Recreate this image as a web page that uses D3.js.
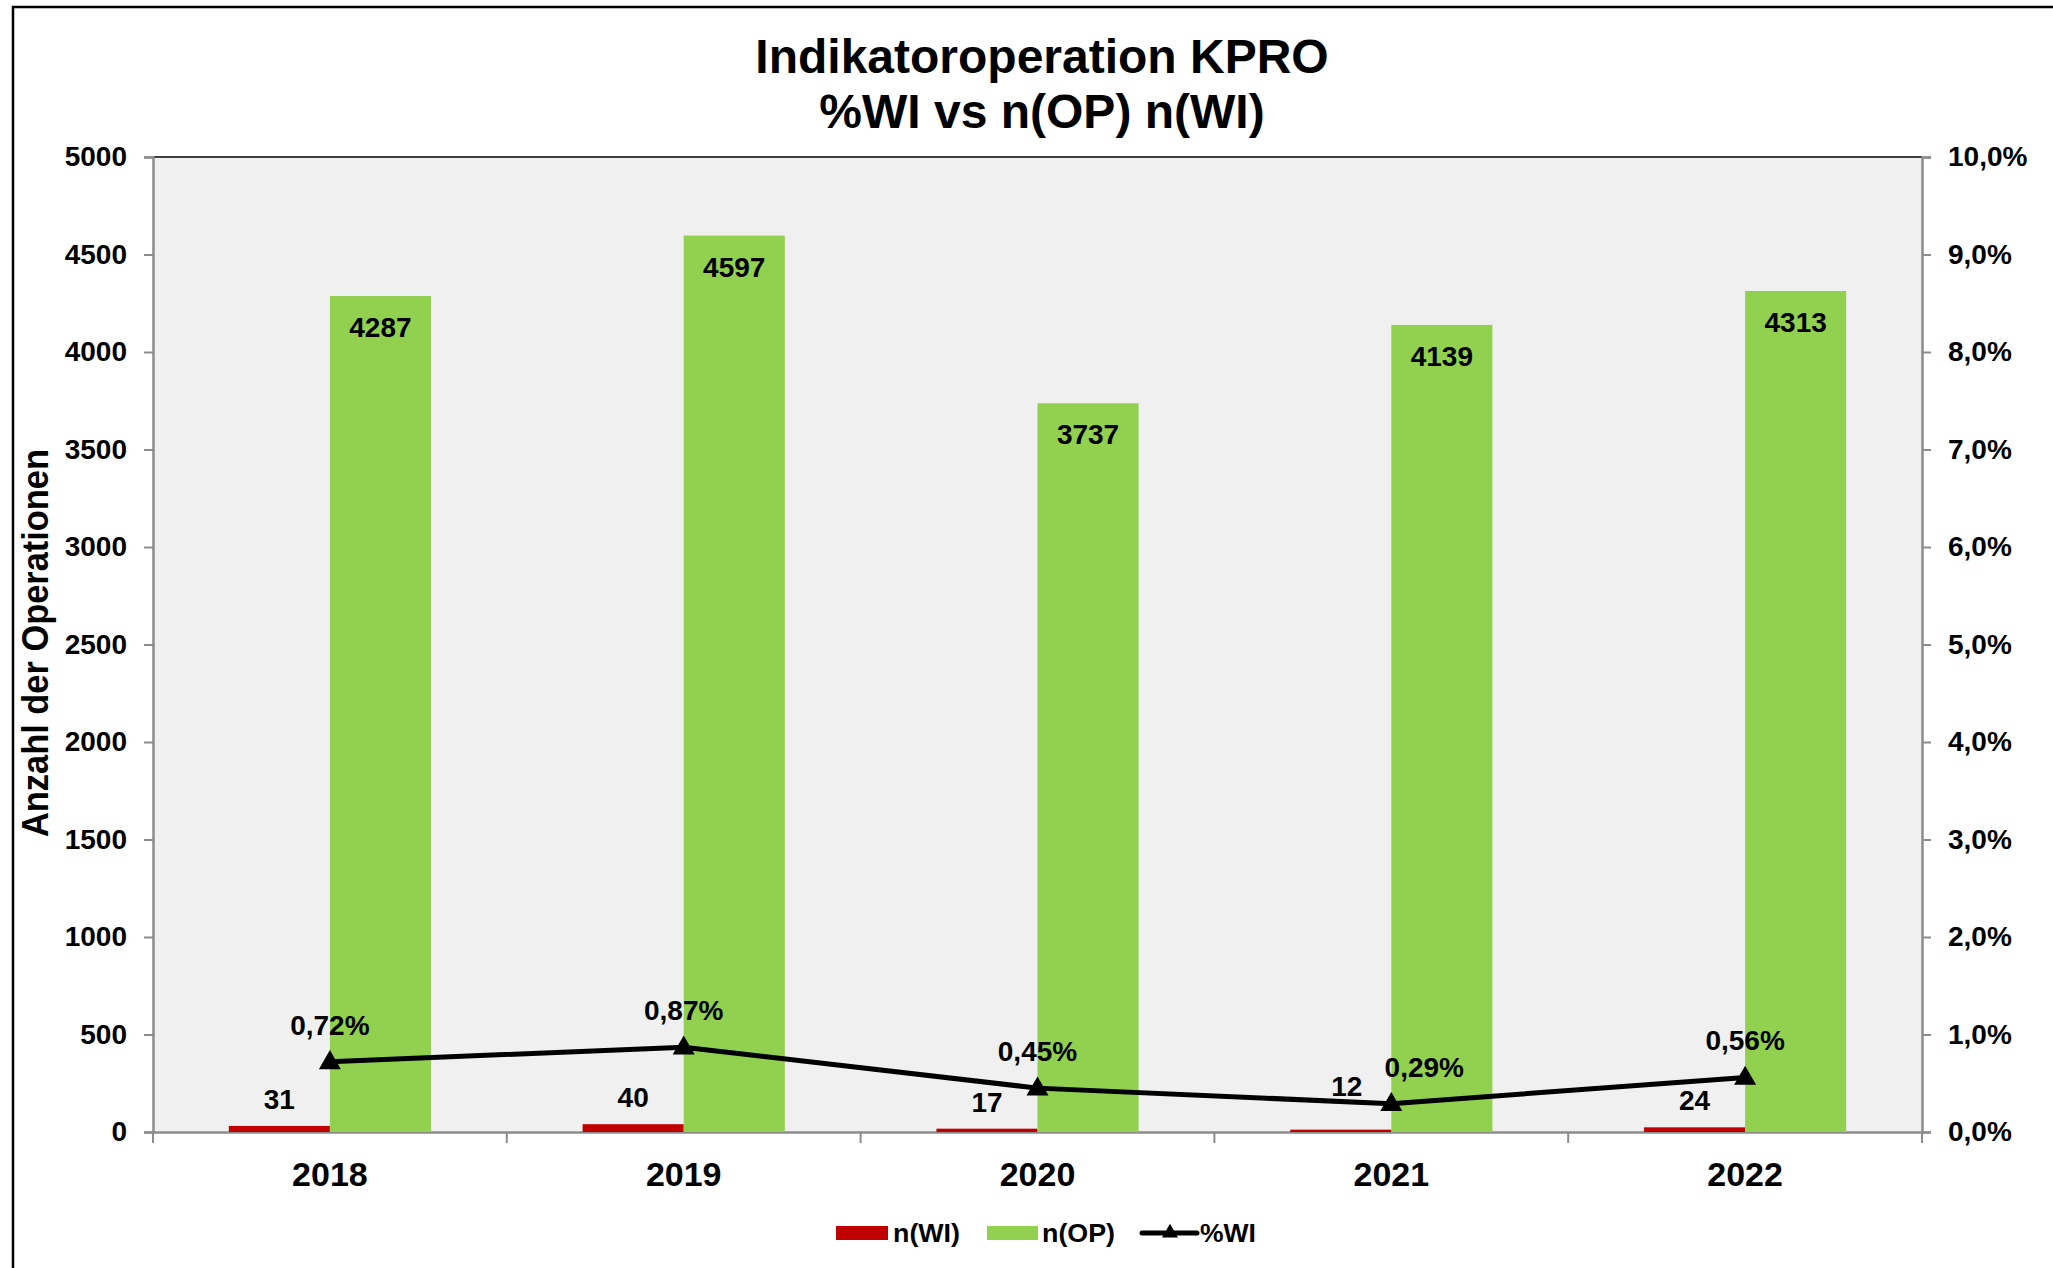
<!DOCTYPE html>
<html>
<head>
<meta charset="utf-8">
<script src="https://cdn.jsdelivr.net/npm/d3@7"></script>
<style>
  html, body { margin: 0; padding: 0; background: #fff; }
  svg { display: block; font-family: "Liberation Sans", Arial, sans-serif; font-weight: bold; }
</style>
</head>
<body>
<div id="chart"></div>
<script>
// chart values
const years = ['2018', '2019', '2020', '2021', '2022']
const nWI = [31, 40, 17, 12, 24]
const nOP = [4287, 4597, 3737, 4139, 4313]
const pctWI = [0.72, 0.87, 0.45, 0.29, 0.56]
const leftTicks = [0, 500, 1000, 1500, 2000, 2500, 3000, 3500, 4000, 4500, 5000]
const rightTicks = [0, 1, 2, 3, 4, 5, 6, 7, 8, 9, 10]

const width = 2053
const height = 1268
const plot = { left: 153, right: 1922, top: 157, bottom: 1132 }

const svg = d3.select('#chart').append('svg')
  .attr('width', width)
  .attr('height', height)

// outer frame (only left and top edges are inside the picture)
svg.append('path')
  .attr('d', `M13,${height} L13,7 L${width},7`)
  .attr('fill', 'none')
  .attr('stroke', '#000')
  .attr('stroke-width', 2.5)

// title
const title = svg.append('text')
  .attr('text-anchor', 'middle')
  .attr('font-size', 48)
title.append('tspan').attr('x', 1042).attr('y', 73).text('Indikatoroperation KPRO')
title.append('tspan').attr('x', 1042).attr('y', 128).text('%WI vs n(OP) n(WI)')

const x = d3.scaleBand().domain(years).range([plot.left, plot.right])
const y = d3.scaleLinear().domain([0, 5000]).range([plot.bottom, plot.top])
const y2 = d3.scaleLinear().domain([0, 10]).range([plot.bottom, plot.top])
const bw = x.bandwidth() / 3.5
const cx = d => x(d) + x.bandwidth() / 2

// plot area
svg.append('rect')
  .attr('x', plot.left).attr('y', plot.top)
  .attr('width', plot.right - plot.left)
  .attr('height', plot.bottom - plot.top)
  .attr('fill', '#f0f0f0')
svg.append('line')
  .attr('x1', plot.left).attr('x2', plot.right)
  .attr('y1', plot.top).attr('y2', plot.top)
  .attr('stroke', '#000').attr('stroke-width', 1.5)

// axes
const fmtPct = d => d3.format('.1f')(d).replace('.', ',') + '%'

const gLeft = svg.append('g')
  .attr('transform', `translate(${plot.left},0)`)
  .call(d3.axisLeft(y).tickValues(leftTicks).tickSize(9).tickPadding(17).tickFormat(d3.format('d')))
const gRight = svg.append('g')
  .attr('transform', `translate(${plot.right},0)`)
  .call(d3.axisRight(y2).tickValues(rightTicks).tickSize(9).tickPadding(17).tickFormat(fmtPct))

;[gLeft, gRight].forEach(g => {
  g.select('.domain').attr('stroke', '#8c8c8c').attr('stroke-width', 2.5)
  g.selectAll('.tick line').attr('stroke', '#8c8c8c').attr('stroke-width', 2)
  g.selectAll('.tick text')
    .attr('font-size', 28)
    .attr('font-family', '"Liberation Sans", Arial, sans-serif')
    .attr('font-weight', 'bold')
    .attr('fill', '#000')
})

const gBottom = svg.append('g')
  .attr('transform', `translate(0,${plot.bottom})`)
  .call(d3.axisBottom(x).tickSize(0))
gBottom.select('.domain').attr('stroke', '#8c8c8c').attr('stroke-width', 2.5)
gBottom.selectAll('.tick text')
  .attr('y', 54).attr('dy', 0)
  .attr('font-size', 34)
  .attr('font-family', '"Liberation Sans", Arial, sans-serif')
  .attr('font-weight', 'bold')
  .attr('fill', '#000')

// category boundary ticks
const bounds = years.map(d => x(d)).concat([plot.right])
gBottom.selectAll('line.bound').data(bounds).enter()
  .append('line')
  .attr('class', 'bound')
  .attr('x1', d => d).attr('x2', d => d)
  .attr('y1', 0).attr('y2', 11)
  .attr('stroke', '#8c8c8c').attr('stroke-width', 2)

// y axis title
svg.append('text')
  .attr('transform', 'translate(48,643) rotate(-90)')
  .attr('text-anchor', 'middle')
  .attr('font-size', 36)
  .attr('textLength', 388)
  .attr('lengthAdjust', 'spacingAndGlyphs')
  .text('Anzahl der Operationen')

// bars
svg.selectAll('rect.wi').data(years).enter()
  .append('rect').attr('class', 'wi')
  .attr('x', d => cx(d) - bw)
  .attr('y', (d, i) => y(nWI[i]))
  .attr('width', bw)
  .attr('height', (d, i) => y(0) - y(nWI[i]))
  .attr('fill', '#c00000')

svg.selectAll('rect.op').data(years).enter()
  .append('rect').attr('class', 'op')
  .attr('x', d => cx(d))
  .attr('y', (d, i) => y(nOP[i]))
  .attr('width', bw)
  .attr('height', (d, i) => y(0) - y(nOP[i]))
  .attr('fill', '#92d050')

// bar labels
svg.selectAll('text.lop').data(years).enter()
  .append('text').attr('class', 'lop')
  .attr('text-anchor', 'middle')
  .attr('font-size', 28)
  .attr('x', d => cx(d) + bw / 2)
  .attr('y', (d, i) => y(nOP[i]) + 41)
  .text((d, i) => nOP[i])

// 2021 labels are moved by hand in the original so they clear the line
const is2021 = i => years[i] === '2021'

svg.selectAll('text.lwi').data(years).enter()
  .append('text').attr('class', 'lwi')
  .attr('text-anchor', 'middle')
  .attr('font-size', 28)
  .attr('x', (d, i) => cx(d) - bw / 2 + (is2021(i) ? 6 : 0))
  .attr('y', (d, i) => y(nWI[i]) - (is2021(i) ? 34 : 17))
  .text((d, i) => nWI[i])

// %WI line
const line = d3.line()
  .x((d, i) => cx(years[i]))
  .y(d => y2(d))

svg.append('path')
  .datum(pctWI)
  .attr('d', line)
  .attr('fill', 'none')
  .attr('stroke', '#000')
  .attr('stroke-width', 5)
  .attr('stroke-linejoin', 'round')

svg.selectAll('path.mk').data(pctWI).enter()
  .append('path').attr('class', 'mk')
  .attr('d', d3.symbol(d3.symbolTriangle).size(210))
  .attr('transform', (d, i) => `translate(${cx(years[i])},${y2(d) + 1})`)
  .attr('fill', '#000')

svg.selectAll('text.lpct').data(pctWI).enter()
  .append('text').attr('class', 'lpct')
  .attr('text-anchor', 'middle')
  .attr('font-size', 28)
  .attr('x', (d, i) => cx(years[i]) + (is2021(i) ? 33 : 0))
  .attr('y', d => y2(d) - 27)
  .text(d => d3.format('.2f')(d).replace('.', ',') + '%')

// legend
const lg = svg.append('g').attr('font-size', 25)
lg.append('rect').attr('x', 836).attr('y', 1226).attr('width', 52).attr('height', 14).attr('fill', '#c00000')
lg.append('text').attr('x', 893).attr('y', 1242).attr('textLength', 67).attr('lengthAdjust', 'spacingAndGlyphs').text('n(WI)')
lg.append('rect').attr('x', 987).attr('y', 1226).attr('width', 51).attr('height', 14).attr('fill', '#92d050')
lg.append('text').attr('x', 1042).attr('y', 1242).attr('textLength', 73).attr('lengthAdjust', 'spacingAndGlyphs').text('n(OP)')
lg.append('line').attr('x1', 1142).attr('x2', 1197).attr('y1', 1233).attr('y2', 1233)
  .attr('stroke', '#000').attr('stroke-width', 5).attr('stroke-linecap', 'round')
lg.append('path').attr('d', d3.symbol(d3.symbolTriangle).size(110))
  .attr('transform', 'translate(1170,1233)')
lg.append('text').attr('x', 1200).attr('y', 1242).attr('textLength', 56).attr('lengthAdjust', 'spacingAndGlyphs').text('%WI')
</script>
</body>
</html>
